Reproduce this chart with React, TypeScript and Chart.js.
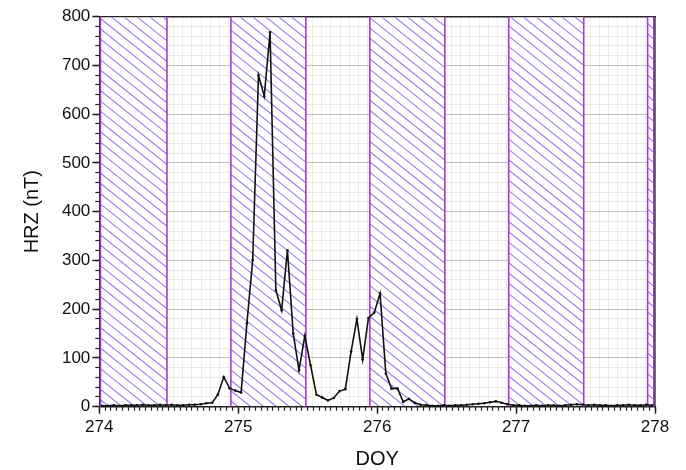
import React, { useEffect, useRef } from "react";
import { Chart, registerables } from "chart.js";

Chart.register(...registerables);

// Hourly HRZ values (nT), hour-centred samples starting DOY 274.0
const startDoy = 274;
const hrz = [
  2, 2, 3, 2, 3, 3, 3, 4, 3, 3, 4, 3, 4, 3, 3, 4, 4,
  5, 7, 8, 25, 61, 38, 33, 29,
  171, 301, 680, 637, 768, 239, 198, 321, 150, 75, 145, 85,
  25, 19, 13, 18, 32, 36, 113, 180, 97, 182, 193, 232,
  68, 37, 38, 10, 16, 8, 4,
  3, 2, 2, 3, 2, 3, 3, 4,
  5, 6, 7, 9, 11, 8, 5,
  3, 3, 2, 2, 3, 2, 3, 3, 2, 3, 4, 5, 4, 3, 4, 3, 3, 2, 3, 3, 4, 3, 3, 4, 3,
];
const times = hrz.map((_, i) => startDoy + (i + 0.5) / 24);

// Hatched (night-time) intervals in DOY
const nightStart = [273.947, 274.947, 275.947, 276.947, 277.947];
const nightEnd = [274.487, 275.487, 276.487, 277.487, 278.487];

// Axis ranges / ticks
const xMin = 274;
const xMax = 278;
const yMin = 0;
const yMax = 800;

const FONT = "'Liberation Sans', Arial, Helvetica, sans-serif";
const HATCH = "#9f78e6";
const EDGE = "#a43cc8";

const hatchPlugin = {
  id: "nightHatch",
  beforeDatasetsDraw(chart: any) {
    const { ctx, chartArea: a, scales } = chart;
    const x = scales.x;
    const slope = 0.8;
    const sp = 10.3;
    ctx.save();
    nightStart.forEach((s, i) => {
      const rawX0 = x.getPixelForValue(s);
      const rawX1 = x.getPixelForValue(nightEnd[i]);
      const x0 = Math.max(a.left + 0.75, rawX0);
      const x1 = Math.min(a.right - 0.75, rawX1);
      if (x1 <= x0) return;
      ctx.save();
      ctx.beginPath();
      ctx.rect(x0, a.top + 0.75, x1 - x0, a.bottom - a.top - 1.5);
      ctx.clip();
      ctx.fillStyle = "#ffffff";
      ctx.fillRect(x0, a.top, x1 - x0, a.bottom - a.top);
      ctx.strokeStyle = HATCH;
      ctx.lineWidth = 1.1;
      ctx.beginPath();
      const nA = Math.floor((a.top - slope * x1) / sp) - 1;
      const nB = Math.ceil((a.bottom - slope * x0) / sp) + 1;
      for (let n = nA; n <= nB; n++) {
        const c = n * sp;
        ctx.moveTo(x0 - 2, slope * (x0 - 2) + c);
        ctx.lineTo(x1 + 2, slope * (x1 + 2) + c);
      }
      ctx.stroke();
      ctx.restore();
      ctx.strokeStyle = EDGE;
      ctx.lineWidth = 1.6;
      ctx.beginPath();
      if (rawX0 >= a.left - 1) {
        ctx.moveTo(x0, a.top);
        ctx.lineTo(x0, a.bottom);
      } else {
        ctx.moveTo(a.left + 1.2, a.top);
        ctx.lineTo(a.left + 1.2, a.bottom);
      }
      if (rawX1 <= a.right + 1) {
        ctx.moveTo(x1, a.top);
        ctx.lineTo(x1, a.bottom);
      } else {
        ctx.moveTo(a.right - 1.2, a.top);
        ctx.lineTo(a.right - 1.2, a.bottom);
      }
      ctx.stroke();
    });
    ctx.restore();
  },
};

export default function App() {
  const canvasRef = useRef<HTMLCanvasElement | null>(null);

  useEffect(() => {
    if (!canvasRef.current) return;
    const chart = new Chart(canvasRef.current, {
      type: "line",
      data: {
        datasets: [
          {
            data: times.map((t, i) => ({ x: t, y: hrz[i] })),
            borderColor: "#111",
            borderWidth: 1.6,
            pointRadius: 1.3,
            pointBackgroundColor: "#111",
            pointBorderWidth: 0,
            tension: 0,
            xAxisID: "x",
            yAxisID: "y",
          },
        ],
      },
      options: {
        animation: false,
        responsive: true,
        maintainAspectRatio: false,
        layout: { padding: { left: 0, right: 31, top: 16.7, bottom: 0 } },
        plugins: { legend: { display: false }, tooltip: { enabled: false } },
        scales: {
          xg: {
            type: "linear",
            min: xMin,
            max: xMax,
            position: "bottom",
            weight: -2,
            ticks: { display: false, stepSize: 1 / 15 },
            grid: { color: "#ededed", drawTicks: false, lineWidth: 1 },
            border: { display: false },
            afterFit: (s: any) => {
              s.height = 0;
            },
          },
          xMinor: {
            type: "linear",
            min: xMin,
            max: xMax,
            position: "bottom",
            weight: -1,
            ticks: { display: false, stepSize: 1 / 24 },
            grid: { drawOnChartArea: false, tickLength: 4, tickColor: "#222", tickWidth: 1.2 },
            border: { display: false },
            afterFit: (s: any) => {
              s.height = 0;
            },
          },
          x: {
            type: "linear",
            min: xMin,
            max: xMax,
            position: "bottom",
            weight: 0,
            ticks: {
              stepSize: 1,
              color: "#111",
              font: { size: 17, family: FONT },
              padding: 3,
              maxRotation: 0,
              autoSkip: false,
            },
            grid: { color: "#c2c2c2", tickLength: 7, tickColor: "#222", tickWidth: 1.5, lineWidth: 1 },
            border: { color: "#222", width: 1.5 },
            title: {
              display: true,
              text: "DOY",
              color: "#111",
              font: { size: 20, family: FONT, lineHeight: 1 },
              padding: { top: 0, bottom: 1 },
            },
            afterFit: (s: any) => {
              s.height = 63.3;
            },
          },
          xTop: {
            type: "linear",
            min: xMin,
            max: xMax,
            position: "top",
            ticks: { display: false },
            grid: { display: false },
            border: { color: "#222", width: 1.5 },
            afterFit: (s: any) => {
              s.height = 0;
            },
          },
          yMinor: {
            type: "linear",
            min: yMin,
            max: yMax,
            position: "left",
            weight: -1,
            ticks: { display: false, stepSize: 20 },
            grid: { color: "#e9e9e9", tickLength: 4, tickColor: "#222", tickWidth: 1.2, lineWidth: 1 },
            border: { display: false },
            afterFit: (s: any) => {
              s.width = 0;
            },
          },
          y: {
            type: "linear",
            min: yMin,
            max: yMax,
            position: "left",
            weight: 0,
            ticks: {
              stepSize: 100,
              color: "#111",
              font: { size: 17, family: FONT },
              padding: 2,
            },
            grid: { color: "#c2c2c2", tickLength: 7, tickColor: "#222", tickWidth: 1.5, lineWidth: 1 },
            border: { color: "#222", width: 1.5 },
            title: {
              display: true,
              text: "HRZ (nT)",
              color: "#111",
              font: { size: 20, family: FONT, lineHeight: 1 },
              padding: { top: 22, bottom: 0 },
            },
            afterFit: (s: any) => {
              s.width = 99.3;
            },
          },
          yRight: {
            type: "linear",
            min: yMin,
            max: yMax,
            position: "right",
            ticks: { display: false },
            grid: { display: false },
            border: { color: "#222", width: 1.5 },
            afterFit: (s: any) => {
              s.width = 0;
            },
          },
        },
      } as any,
      plugins: [hatchPlugin],
    });
    return () => chart.destroy();
  }, []);

  return (
    <div style={{ position: "fixed", left: 0, top: 0, width: 686, height: 470, background: "#fff" }}>
      <canvas ref={canvasRef} />
    </div>
  );
}
